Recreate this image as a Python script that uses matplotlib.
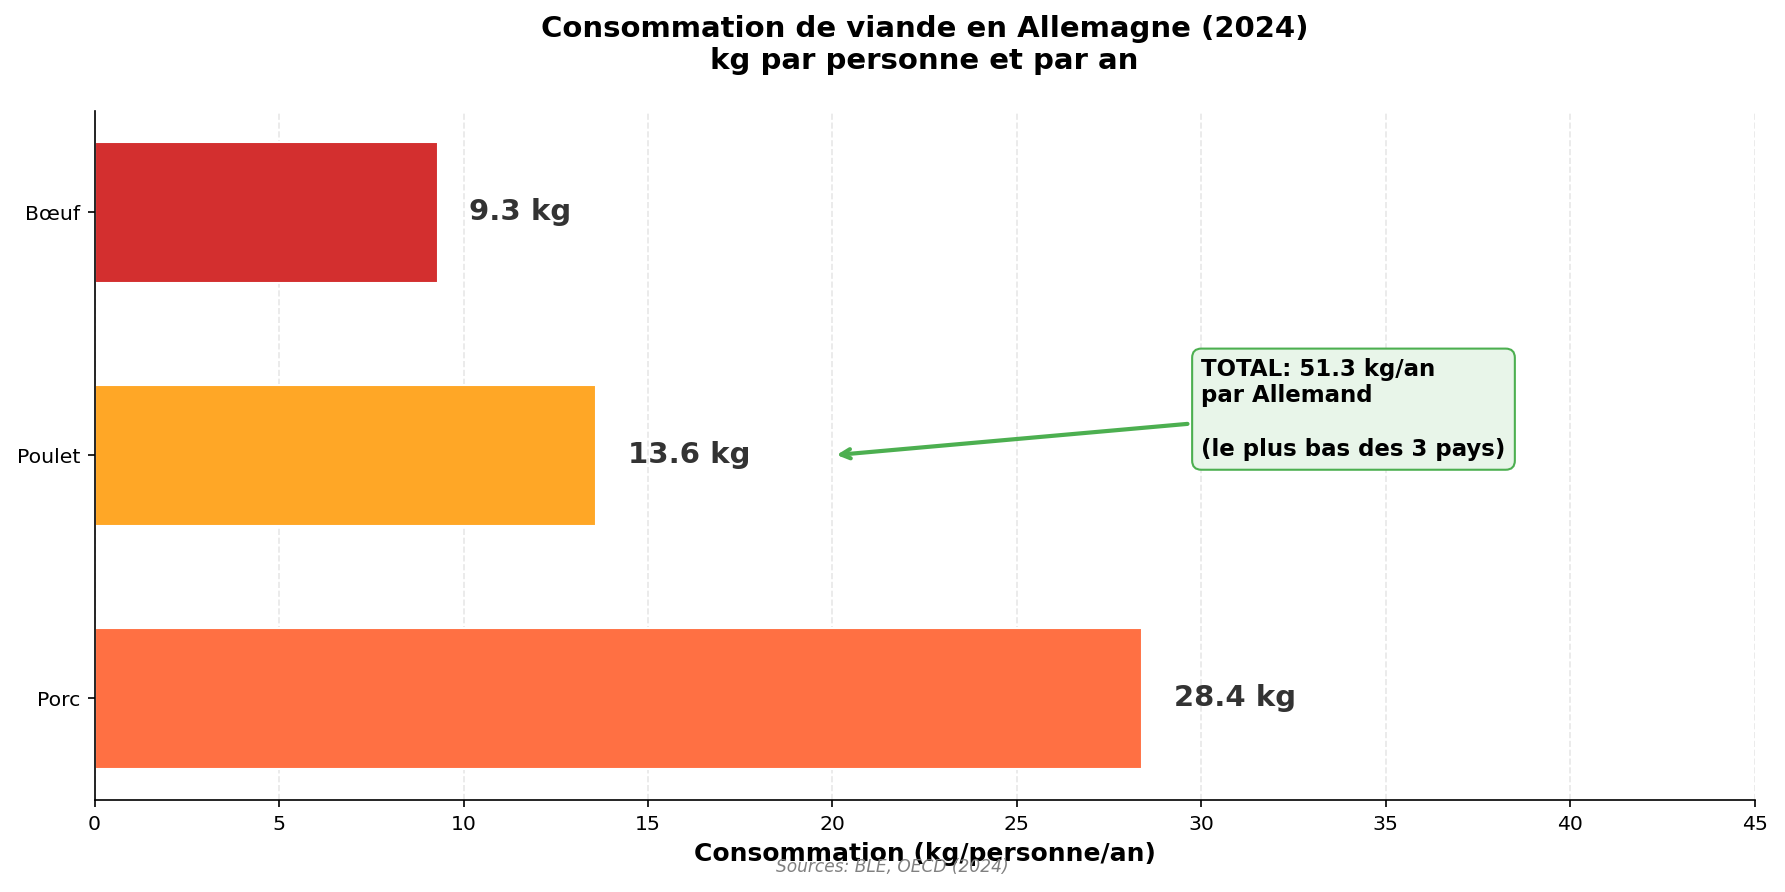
import matplotlib
matplotlib.use("Agg")
import matplotlib.pyplot as plt

# Données
viandes = ['Porc', 'Poulet', 'Bœuf']
valeurs = [28.4, 13.6, 9.3]
couleurs = ['#FF7043', '#FFA726', '#D32F2F']
total = 51.3

fig, ax = plt.subplots(figsize=(11.9, 5.947), dpi=150)

bars = ax.barh(viandes, valeurs, color=couleurs, height=0.58, edgecolor='white', linewidth=1)

for bar, val in zip(bars, valeurs):
    ax.text(val + 0.85, bar.get_y() + bar.get_height() / 2, f'{val} kg',
            va='center', ha='left', fontsize=14, fontweight='bold', color='#333333')

ax.annotate(f'TOTAL: {total} kg/an\npar Allemand\n\n(le plus bas des 3 pays)',
            xy=(20, 1), xytext=(30, 1.19),
            fontsize=11, fontweight='bold', va='center', ha='left',
            bbox=dict(boxstyle='round,pad=0.4', facecolor='#E8F5E9', edgecolor='#4CAF50'),
            arrowprops=dict(arrowstyle='->', color='#4CAF50', lw=2))

ax.set_xlim(0, 45)
ax.tick_params(labelsize=9.8)
ax.set_xlabel('Consommation (kg/personne/an)', fontsize=12, fontweight='bold')
ax.set_title('Consommation de viande en Allemagne (2024)\nkg par personne et par an',
             fontsize=14, fontweight='bold', pad=20)
ax.grid(axis='x', linestyle='--', alpha=0.3)
ax.set_axisbelow(True)
ax.spines['top'].set_visible(False)
ax.spines['right'].set_visible(False)

fig.text(0.5, 0.022, 'Sources: BLE, OECD (2024)', ha='center', fontsize=8.2,
         style='italic', color='gray')

plt.subplots_adjust(left=0.053, right=0.983, top=0.876, bottom=0.103)
plt.savefig('out.png', dpi=150)
